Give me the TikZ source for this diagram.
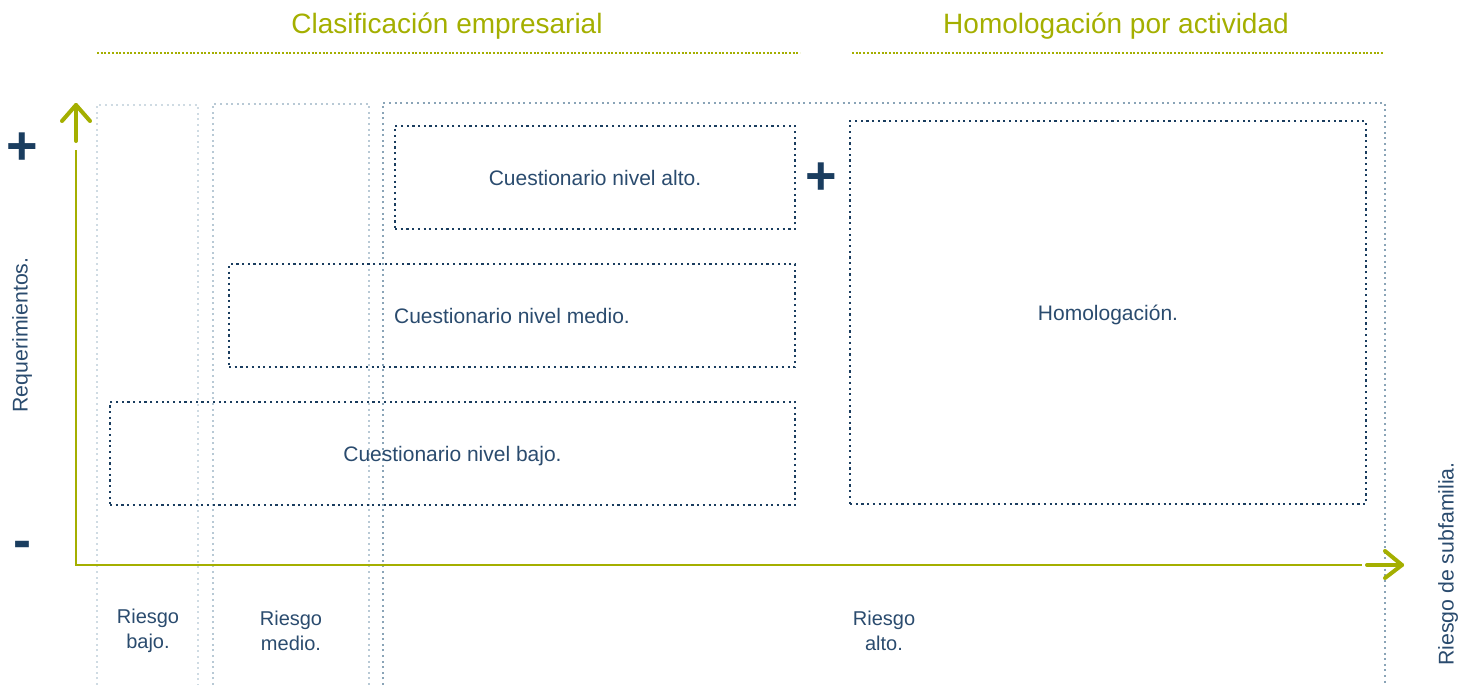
\documentclass[tikz,border=0pt]{standalone}
\usepackage{fontspec}
\setmainfont{Liberation Sans}
\definecolor{navy}{HTML}{1A3D5F}
\definecolor{navytxt}{HTML}{2A4B6E}
\definecolor{lime}{HTML}{A4AF00}
\definecolor{colA}{HTML}{CFDBE3}
\definecolor{colB}{HTML}{B8C9D5}
\definecolor{colC}{HTML}{8AA4B7}
\tikzset{
  boxdots/.style={draw=navy, line width=2.2pt, line cap=butt, dash pattern=on 2.2pt off 3.5pt},
  coldots/.style={line width=2pt, line cap=butt, dash pattern=on 2pt off 3.6pt},
  titledots/.style={draw=lime, line width=2.2pt, line cap=butt, dash pattern=on 2pt off 1.7pt},
  qbox/.style={boxdots, inner sep=0pt, text=navytxt, font=\fontsize{21}{25}\selectfont, text height=15pt, text depth=0pt},
  lbl/.style={text=navytxt, font=\fontsize{20}{25}\selectfont, align=center, inner sep=0pt},
  rlbl/.style={lbl, font=\fontsize{21.3}{25}\selectfont},
  ttl/.style={text=lime, font=\fontsize{28}{30}\selectfont, inner sep=0pt},
  sign/.style={text=navy, font=\bfseries\fontsize{54}{54}\selectfont, inner sep=0pt},
  axis/.style={draw=lime, line width=1.5pt},
  arrowpart/.style={draw=lime, line width=4pt, line cap=round, line join=round}
}
\begin{document}
\begin{tikzpicture}[x=1pt,y=-1pt]
\useasboundingbox (0,0) rectangle (1468,685);
% risk columns
\draw[coldots, colA] (97,685) -- (97,105) -- (198,105) -- (198,685);
\draw[coldots, colB] (213,685) -- (213,104) -- (369,104) -- (369,685);
\draw[coldots, colC] (383,685) -- (383,103) -- (1385,103) -- (1385,685);
% titles
\node[ttl] (t1) at (447,26) {Clasificación empresarial};
\node[ttl] (t2) at (1116,26) {Homologación por actividad};
\coordinate (t1a) at (97,53); \coordinate (t1b) at (800,53);
\coordinate (t2a) at (852,53); \coordinate (t2b) at (1383,53);
\draw[titledots] (t1a) -- (t1b);
\draw[titledots] (t2a) -- (t2b);
% boxes
\node[qbox, minimum width=400pt, minimum height=103pt] (alto) at (595,177.5) {Cuestionario nivel alto.};
\node[qbox, minimum width=566pt, minimum height=103pt] (medio) at (512,315.5) {Cuestionario nivel medio.};
\node[qbox, minimum width=685pt, minimum height=103pt] (bajo) at (452.5,453.5) {Cuestionario nivel bajo.};
\node[qbox, minimum width=516pt, minimum height=383pt] (homo) at (1108,312.5) {Homologación.};
% axes
\coordinate (o) at (76,565);
\coordinate (ytop) at (76,150);
\coordinate (xend) at (1362,565);
\draw[axis] (ytop) -- (o) -- (xend);
\coordinate (ya) at (76,141); \coordinate (yt) at (76,105);
\draw[arrowpart] (ya) -- (yt);
\draw[arrowpart] (62,121) -- (yt) -- (90,121);
\coordinate (xa) at (1367,565); \coordinate (xt) at (1402,565);
\draw[arrowpart] (xa) -- (xt);
\draw[arrowpart] (1385,551) -- (xt) -- (1385,578);
% signs
\node[sign] (p1) at (22,149) {+};
\node[sign] (m1) at (22,550) {-};
\node[sign] (p2) at (821,179) {+};
% axis labels
\node[rlbl, rotate=90] (req) at (22,335) {Requerimientos.};
\node[rlbl, rotate=90] (sub) at (1448,564) {Riesgo de subfamilia.};
% column labels
\node[lbl] (rb) at (148,631) {Riesgo\\bajo.};
\node[lbl] (rm) at (291,631) {Riesgo\\medio.};
\node[lbl] (ra) at (884,631) {Riesgo\\alto.};
\end{tikzpicture}
\end{document}
